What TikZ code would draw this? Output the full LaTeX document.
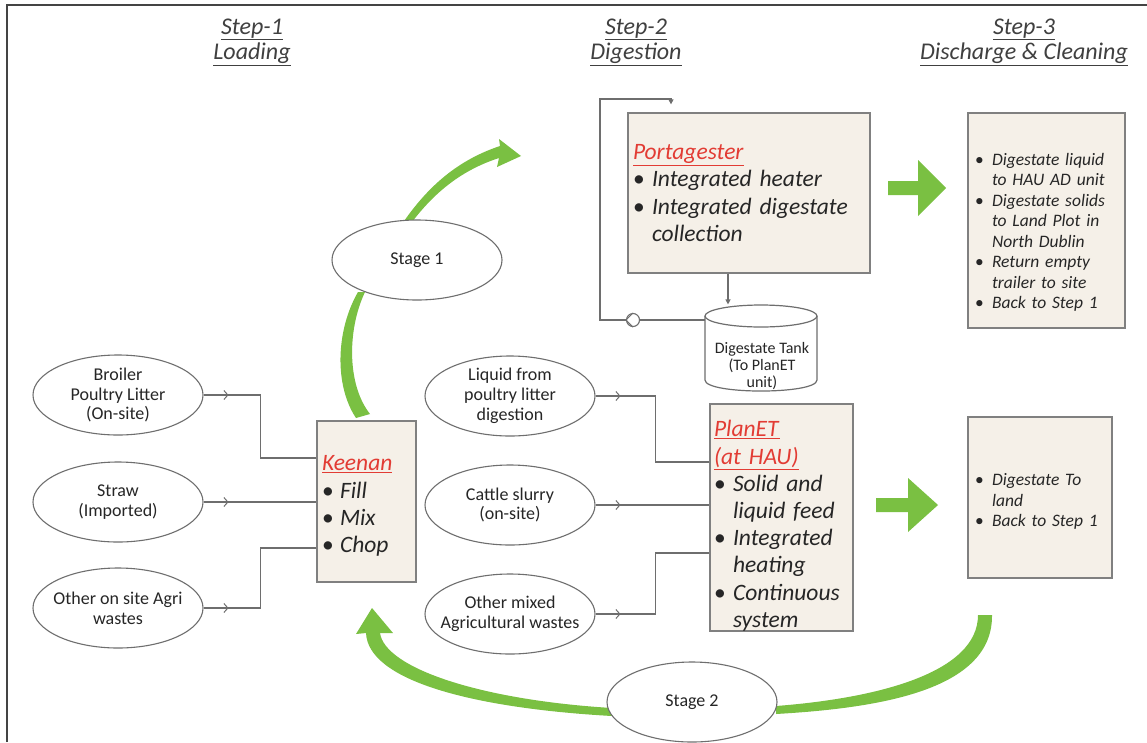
\documentclass[tikz,border=0pt]{standalone}
\usepackage{fontspec}
\setmainfont{Carlito}
\usetikzlibrary{arrows.meta,decorations.markings,shapes.geometric,calc}
\definecolor{boxfill}{RGB}{245,240,232}
\definecolor{boxline}{RGB}{128,128,128}
\definecolor{txt}{RGB}{38,38,38}
\definecolor{hdrc}{RGB}{64,64,64}
\definecolor{redh}{RGB}{226,60,52}
\definecolor{grn}{RGB}{122,192,66}
\definecolor{lin}{RGB}{110,110,110}
\definecolor{frame}{RGB}{68,68,68}
\newcommand{\fbig}{\fontsize{23.5}{27.2}\selectfont}
\newcommand{\fmid}{\fontsize{17.5}{20.5}\selectfont}
\newcommand{\fell}{\fontsize{18}{19.8}\selectfont}
\newcommand{\ftank}{\fontsize{16}{17}\selectfont}
\newcommand{\fhdr}{\fontsize{24}{25}\selectfont}
\newcommand{\bul}[1]{\makebox[#1][l]{\textbullet}}
\newcommand{\redhd}[1]{{\color{redh}\underline{\textit{#1}}}}
\begin{document}
\begin{tikzpicture}[x=1pt,y=-1pt,
  hdr/.style={font=\fhdr\itshape, text=hdrc, align=center},
  bx/.style={draw=boxline, line width=1.3pt, fill=boxfill, rectangle, inner ysep=0pt, align=left, text=txt},
  el/.style={ellipse, draw=lin, line width=1.1pt, fill=white, minimum width=170, minimum height=80, inner xsep=-25pt, inner ysep=-14pt, align=center, text=txt, font=\fell},
  conn/.style={draw=lin, line width=1.2pt},
  chev/.style={postaction={decorate, decoration={markings, mark=at position 25pt with {\arrow[line width=1pt]{Straight Barb[length=4pt,width=9pt]}}}}},
  tip/.style={-{Triangle[length=5pt,width=5pt]}}
]
\useasboundingbox (0,0) rectangle (1147,742);
\fill[white] (0,0) rectangle (1147,742);
\draw[line width=2pt, frame] (7,742) -- (7,5) -- (1147,5);

% headers
\node[hdr] (h1) at (252,42) {\underline{Step-1}\\\underline{Loading}};
\node[hdr] (h2) at (636,42) {\underline{Step-2}\\\underline{Digestion}};
\node[hdr] (h3) at (1024,42) {\underline{Step-3}\\\underline{Discharge \& Cleaning}};

% green curved arrows (drawn first, ellipses on top)
\fill[grn] (356,418) .. controls (334,385) and (336,330) .. (358,292) -- (365,292) .. controls (347,330) and (347,385) .. (370,414) -- cycle;
\fill[grn] (402,224) .. controls (428,186) and (458,160) .. (500,146) -- (499,139) -- (521,156) -- (497,167) -- (499,158) .. controls (462,170) and (434,192) .. (409,226) -- cycle;
\fill[grn] (612,716) .. controls (470,708) and (368,680) .. (366,633) -- (356,634) -- (372,608) -- (393,633) -- (380,633) .. controls (385,668) and (480,700) .. (612,708) -- cycle;
\fill[grn] (776,714) .. controls (880,708) and (993,690) .. (992,615) -- (978,615) .. controls (978,672) and (880,698) .. (776,706) -- cycle;

% block arrows
\fill[grn] (888,181) -- (918,181) -- (918,160) -- (946,188) -- (918,216) -- (918,195) -- (888,195) -- cycle;
\fill[grn] (876,498) -- (908,498) -- (908,478) -- (938,505) -- (908,532) -- (908,512) -- (876,512) -- cycle;

% boxes
\node[bx, font=\fbig, minimum width=242, minimum height=160, text width=232, inner xsep=5pt] (port) at (749,193)
 {\redhd{Portagester}\\
  \bul{19pt}\textit{Integrated heater}\\
  \bul{19pt}\textit{Integrated digestate}\\
  \hspace*{19pt}\textit{collection}};
\node[bx, font=\fbig, minimum width=99, minimum height=161, text width=89, inner xsep=5pt] (keenan) at (366.5,501.5)
 {\rule{0pt}{24pt}\redhd{Keenan}\\
  \bul{18pt}\textit{Fill}\\
  \bul{18pt}\textit{Mix}\\
  \bul{18pt}\textit{Chop}};
\node[bx, font=\fbig, minimum width=143, minimum height=221, text width=135, inner xsep=4pt] (planet) at (781.5,517.5)
 {\rule{0pt}{33pt}\redhd{PlanET}\\
  \redhd{(at HAU)}\\
  \bul{19pt}\textit{Solid and}\\
  \hspace*{19pt}\textit{liquid feed}\\
  \bul{19pt}\textit{Integrated}\\
  \hspace*{19pt}\textit{heating}\\
  \bul{19pt}\textit{Continuous}\\
  \hspace*{19pt}\textit{system}};
\node[bx, font=\fmid, minimum width=157, minimum height=215, text width=143, inner xsep=7pt] (dis1) at (1046.5,220.5)
 {\rule{0pt}{36pt}\bul{17pt}\textit{Digestate liquid}\\
  \hspace*{17pt}\textit{to HAU AD unit}\\
  \bul{17pt}\textit{Digestate solids}\\
  \hspace*{17pt}\textit{to Land Plot in}\\
  \hspace*{17pt}\textit{North Dublin}\\
  \bul{17pt}\textit{Return empty}\\
  \hspace*{17pt}\textit{trailer to site}\\
  \bul{17pt}\textit{Back to Step 1}};
\node[bx, font=\fmid, minimum width=144, minimum height=161, text width=130, inner xsep=7pt] (dis2) at (1040,497.5)
 {\rule{0pt}{20pt}\bul{17pt}\textit{Digestate To}\\
  \hspace*{17pt}\textit{land}\\
  \bul{17pt}\textit{Back to Step 1}};

% ellipses
\node[el] (broiler) at (118,395) {Broiler\\Poultry Litter\\(On-site)};
\node[el] (straw) at (118,502) {Straw\\(Imported)};
\node[el] (otheragri) at (118,608) {Other on site Agri\\wastes};
\node[el] (liquid) at (510,396) {Liquid from\\poultry litter\\digestion};
\node[el] (cattle) at (510,505) {Cattle slurry\\(on-site)};
\node[el] (mixed) at (510,614) {Other mixed\\Agricultural wastes};
\node[el] (stage1) at (417,260) {Stage 1};
\node[el] (stage2) at (692,702) {Stage 2};

% input connectors
\draw[conn,chev] (broiler.east) -- ++(57,0) |- ([yshift=43.5pt]keenan.west);
\draw[conn,chev] (straw.east) -- (straw.east -| keenan.west);
\draw[conn,chev] (otheragri.east) -- ++(57,0) |- ([yshift=-46.5pt]keenan.west);
\draw[conn,chev] (liquid.east) -- ++(60,0) |- ([yshift=55.5pt]planet.west);
\draw[conn,chev] (cattle.east) -- (cattle.east -| planet.west);
\draw[conn,chev] (mixed.east) -- ++(60,0) |- ([yshift=-35.5pt]planet.west);

% digestate tank
\coordinate (tankL) at (705,320);
\draw[line width=1.2pt, lin, fill=white] (705,316) -- (705,380) .. controls (705,394.7) and (817,394.7) .. (817,380) -- (817,316);
\node[ellipse, draw=lin, line width=1.2pt, fill=white, minimum width=112, minimum height=22, inner sep=0pt] (tanktop) at (761,316) {};
\node[font=\ftank, text=txt, align=center, inner sep=0pt] (tank) at (762,366) {Digestate Tank\\(To PlanET\\unit)};

% recirculation loop
\coordinate (lp1) at (600,320);
\coordinate (lp2) at (600,99);
\draw[conn,tip] (tankL) -- (lp1) -- (lp2) -| ([xshift=-78pt,yshift=8pt]port.north);
\node[circle, draw=lin, line width=1.1pt, fill=white, minimum size=13, inner sep=0pt] (pump) at (633,320) {};
\draw[lin, line width=1pt] (pump.north) -- (pump.west) -- (pump.south);
\draw[conn,tip] ([xshift=-21pt]port.south) -- ([xshift=-21pt]port.south |- tanktop.north);
\end{tikzpicture}
\end{document}
